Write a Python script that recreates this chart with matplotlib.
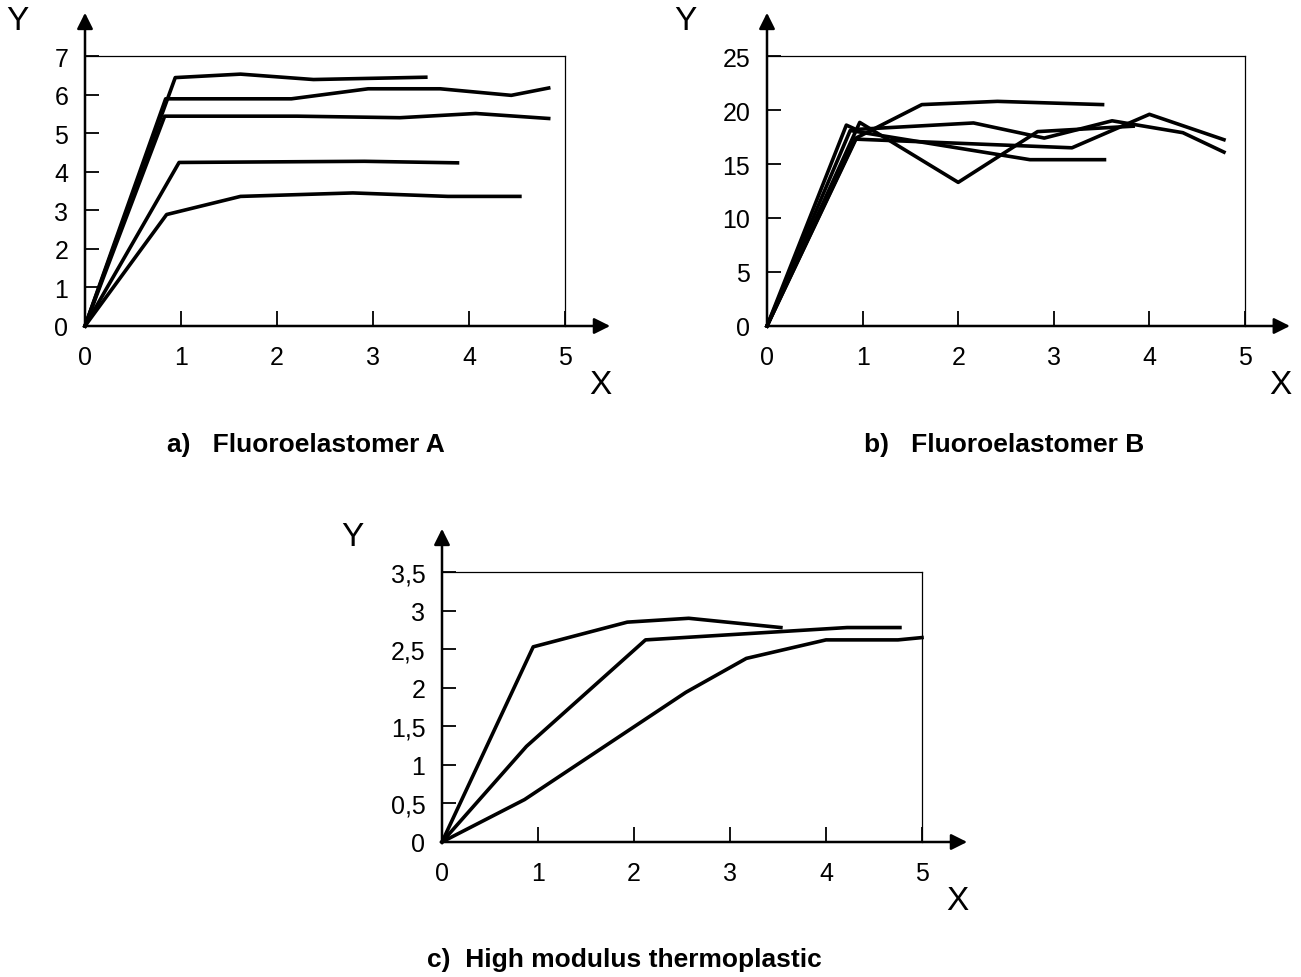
import matplotlib
matplotlib.use('Agg')
import matplotlib.pyplot as plt

plt.rcParams['font.family'] = ['Liberation Sans', 'DejaVu Sans']

# a) Fluoroelastomer A
a_curves_x = [
    [0, 0.94, 1.62, 2.38, 3.55],
    [0, 0.84, 2.15, 2.95, 3.70, 4.44, 4.83],
    [0, 0.83, 2.21, 3.28, 4.07, 4.83],
    [0, 0.98, 2.91, 3.88],
    [0, 0.85, 1.62, 2.79, 3.78, 4.53],
]
a_curves_y = [
    [0, 6.44, 6.53, 6.39, 6.45],
    [0, 5.89, 5.89, 6.15, 6.15, 5.98, 6.17],
    [0, 5.44, 5.44, 5.40, 5.51, 5.38],
    [0, 4.24, 4.27, 4.23],
    [0, 2.89, 3.36, 3.45, 3.36, 3.36],
]
a_yticks = [0, 1, 2, 3, 4, 5, 6, 7]
a_ylabels = ['0', '1', '2', '3', '4', '5', '6', '7']

# b) Fluoroelastomer B
b_curves_x = [
    [0, 0.93, 1.62, 2.41, 3.51],
    [0, 0.83, 0.93, 2.16, 2.90, 3.61, 4.35, 4.78],
    [0, 0.97, 2.00, 2.83, 3.83],
    [0, 0.93, 3.19, 4.00, 4.78],
    [0, 0.87, 2.75, 3.53],
]
b_curves_y = [
    [0, 17.4, 20.5, 20.8, 20.5],
    [0, 18.6, 18.2, 18.8, 17.4, 19.0, 17.9, 16.1],
    [0, 18.85, 13.3, 18.0, 18.5],
    [0, 17.3, 16.5, 19.6, 17.25],
    [0, 18.1, 15.4, 15.4],
]
b_yticks = [0, 5, 10, 15, 20, 25]
b_ylabels = ['0', '5', '10', '15', '20', '25']

# c) High modulus thermoplastic
c_curves_x = [
    [0, 0.95, 1.93, 2.57, 3.53],
    [0, 0.88, 2.12, 4.22, 4.77],
    [0, 0.86, 2.54, 3.17, 4.00, 4.75, 5.00],
]
c_curves_y = [
    [0, 2.53, 2.85, 2.90, 2.78],
    [0, 1.24, 2.62, 2.78, 2.78],
    [0, 0.55, 1.94, 2.38, 2.62, 2.62, 2.65],
]
c_yticks = [0, 0.5, 1, 1.5, 2, 2.5, 3, 3.5]
c_ylabels = ['0', '0,5', '1', '1,5', '2', '2,5', '3', '3,5']

xticks = [0, 1, 2, 3, 4, 5]
xlabels = ['0', '1', '2', '3', '4', '5']

titles = ['a)   Fluoroelastomer A', 'b)   Fluoroelastomer B', 'c)  High modulus thermoplastic']


def draw_panel(ax, xs, ys, yticks, ylabels, ylab_x):
    for x, y in zip(xs, ys):
        ax.plot(x, y, color='black', lw=2.6, clip_on=False, zorder=3)
    ax.set_xlim(0, 5)
    ax.set_ylim(yticks[0], yticks[-1])
    ax.set_xticks(xticks)
    ax.set_xticklabels(xlabels)
    ax.set_yticks(yticks)
    ax.set_yticklabels(ylabels)
    ax.tick_params(axis='x', direction='in', length=11, width=1.3, pad=14, labelsize=18)
    ax.tick_params(axis='y', direction='in', length=10, width=1.3, pad=12, labelsize=18)

    # thin box on top/right, arrows for the axes
    ax.spines['left'].set_visible(False)
    ax.spines['bottom'].set_visible(False)
    ax.spines['top'].set_linewidth(0.9)
    ax.spines['right'].set_linewidth(0.9)
    arr = dict(arrowstyle='-|>', color='black', lw=1.8, mutation_scale=24,
               shrinkA=0, shrinkB=0)
    ax.annotate('', xy=(1.094, 0), xytext=(0, 0), xycoords='axes fraction',
                arrowprops=arr, annotation_clip=False)
    ax.annotate('', xy=(0, 1.16), xytext=(0, 0), xycoords='axes fraction',
                arrowprops=arr, annotation_clip=False)

    ax.text(1.073, -0.215, 'X', transform=ax.transAxes, fontsize=24,
            ha='center', va='center')
    ax.text(ylab_x, 1.13, 'Y', transform=ax.transAxes, fontsize=24,
            ha='center', va='center')


fig = plt.figure(figsize=(13.01, 9.78), dpi=100)

ax_a = fig.add_axes([85 / 1301, 1 - 327 / 978, 480 / 1301, 270 / 978])
ax_b = fig.add_axes([767 / 1301, 1 - 327 / 978, 478 / 1301, 270 / 978])
ax_c = fig.add_axes([442 / 1301, 1 - 843 / 978, 480 / 1301, 270 / 978])

draw_panel(ax_a, a_curves_x, a_curves_y, a_yticks, a_ylabels, -0.14)
draw_panel(ax_b, b_curves_x, b_curves_y, b_yticks, b_ylabels, -0.17)
draw_panel(ax_c, c_curves_x, c_curves_y, c_yticks, c_ylabels, -0.1875)

fig.text(306 / 1301, 1 - 445 / 978, titles[0], fontsize=19, fontweight='bold',
         ha='center', va='center')
fig.text(1004 / 1301, 1 - 445 / 978, titles[1], fontsize=19, fontweight='bold',
         ha='center', va='center')
fig.text(624 / 1301, 1 - 960 / 978, titles[2], fontsize=19, fontweight='bold',
         ha='center', va='center')

fig.savefig('out.png', dpi=100)
